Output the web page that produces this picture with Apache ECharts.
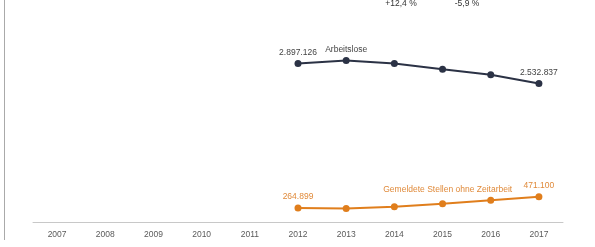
<!DOCTYPE html>
<html>
<head>
<meta charset="utf-8">
<script src="https://cdn.jsdelivr.net/npm/echarts@6/dist/echarts.min.js"></script>
<style>
  html, body { margin: 0; padding: 0; background: #fff; }
  #main { width: 595px; height: 247px; }
</style>
</head>
<body>
<div id="main"></div>
<script>
var years = ['2007', '2008', '2009', '2010', '2011', '2012', '2013', '2014', '2015', '2016', '2017'];
var arbeitslose = [null, null, null, null, null, 2897126, 2950250, 2898388, 2794664, 2690975, 2532837];
var stellen = [null, null, null, null, null, 264899, 257000, 289000, 343000, 405000, 471100];
var changes = ['+12,4 %', '-5,9 %'];

var dark = '#2b3245';
var orange = '#e07e1c';

function fmt(v) {
    return String(v).replace(/\B(?=(\d{3})+(?!\d))/g, '.');
}

// first and last point get their value, extra holds name labels
function withLabels(values, extra) {
    var first = values.findIndex(function (x) { return x != null; });
    return values.map(function (v, i) {
        if (v == null) return v;
        var item = { value: v };
        if (i === first || i === values.length - 1) {
            item.label = { show: true, formatter: fmt(v) };
        }
        if (extra[i]) item.label = extra[i];
        return item;
    });
}

var labelBase = { position: 'top', distance: 3, fontSize: 8.5, fontFamily: 'Liberation Sans, Arial' };

option = {
    animation: false,
    grid: { left: 33, right: 32, top: 3, bottom: 24.5 },
    xAxis: {
        type: 'category',
        data: years,
        axisLine: { lineStyle: { color: '#c8c8c8' } },
        axisTick: { inside: true, length: 3, lineStyle: { color: '#b8b8b8' } },
        axisLabel: { color: '#5a5a5a', fontSize: 8.5, fontFamily: 'Liberation Sans, Arial', margin: 8 }
    },
    yAxis: {
        type: 'value',
        min: 0,
        max: 4000000,
        show: false
    },
    graphic: [
        { type: 'line', shape: { x1: 4.5, y1: 0, x2: 4.5, y2: 240 }, style: { stroke: '#aaa', lineWidth: 1 } },
        { type: 'text', x: 401, y: 4, style: { text: changes[0], fill: '#333', font: '8.5px Liberation Sans', align: 'center', verticalAlign: 'middle' } },
        { type: 'text', x: 467, y: 4, style: { text: changes[1], fill: '#333', font: '8.5px Liberation Sans', align: 'center', verticalAlign: 'middle' } }
    ],
    series: [
        {
            name: 'Arbeitslose',
            type: 'line',
            symbol: 'circle',
            symbolSize: 7,
            itemStyle: { color: dark },
            lineStyle: { color: dark, width: 2 },
            label: Object.assign({ color: '#444' }, labelBase),
            data: withLabels(arbeitslose, {
                6: { show: true, formatter: 'Arbeitslose' }
            })
        },
        {
            name: 'Gemeldete Stellen ohne Zeitarbeit',
            type: 'line',
            symbol: 'circle',
            symbolSize: 7,
            itemStyle: { color: orange },
            lineStyle: { color: orange, width: 2 },
            label: Object.assign({ color: '#e08a3a' }, labelBase),
            data: withLabels(stellen, {
                9: { show: true, formatter: 'Gemeldete Stellen ohne Zeitarbeit', offset: [-43, 0] }
            })
        }
    ]
};

var chartDom = document.getElementById('main');
var myChart = echarts.init(chartDom);
myChart.setOption(option);
</script>
</body>
</html>
